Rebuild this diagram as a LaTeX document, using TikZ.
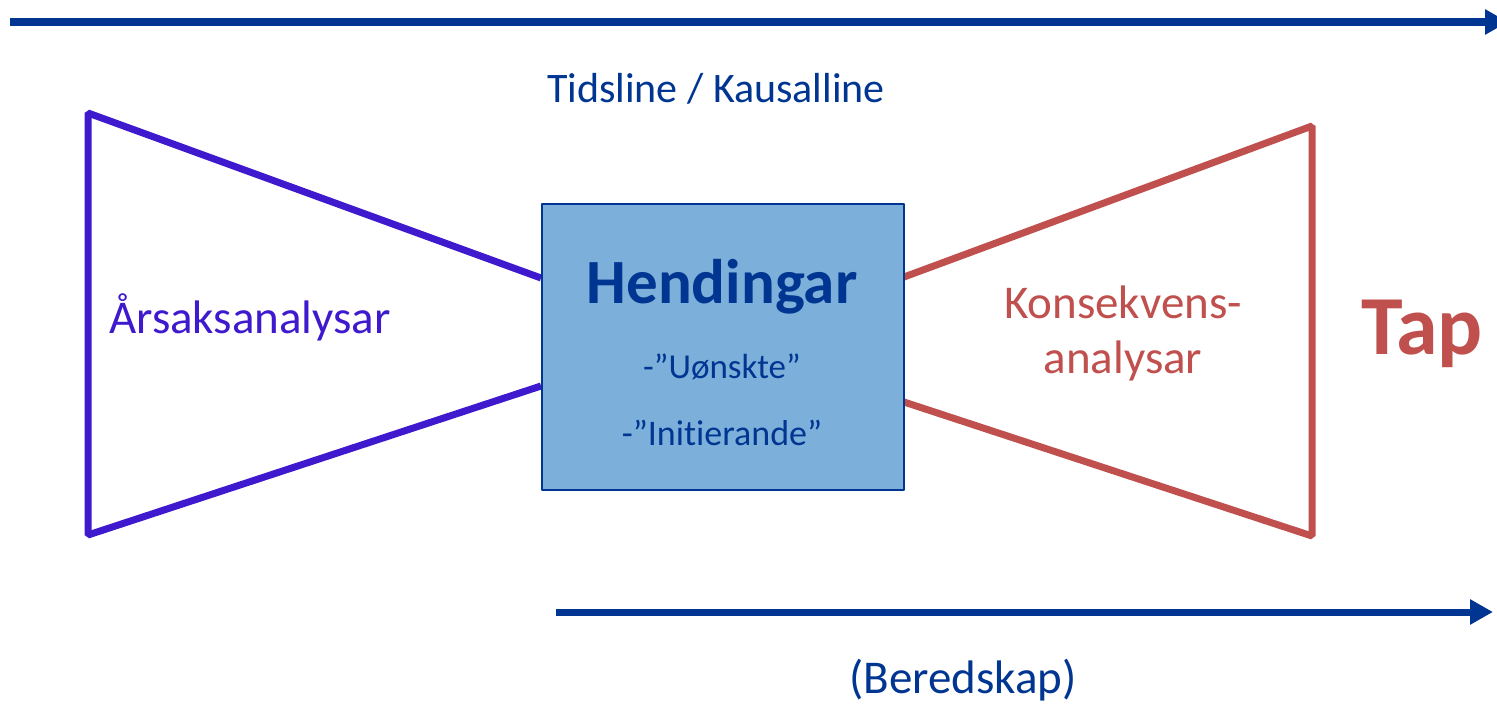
\documentclass[tikz,border=0pt]{standalone}
\usepackage{fontspec}
\setmainfont{Carlito}[Ligatures=NoCommon]
\usetikzlibrary{arrows.meta}
\usetikzlibrary{positioning}
\definecolor{tidsblue}{RGB}{0,53,145}
\definecolor{aarsakcol}{RGB}{63,25,205}
\definecolor{konsekcol}{RGB}{192,80,77}
\definecolor{hendfill}{RGB}{124,176,218}
\tikzstyle{tidsline} = [
	draw=tidsblue,
	-{Triangle[length=23pt,width=24pt]}
]
\tikzstyle{tekst} = [inner sep=0pt, anchor=base]
\tikzstyle{hending} = [
	draw=tidsblue,
	fill=hendfill,
	line width=2pt,
	inner sep=0pt,
	minimum width=362pt,
	minimum height=286pt
]
\tikzstyle{aarsak} = [draw=aarsakcol, line width=7pt]
\tikzstyle{konsek} = [draw=konsekcol, line width=7pt]
\tikzstyle{point} = [coordinate]

\begin{document}
\begin{tikzpicture}[x=1pt, y=-1pt, line join=bevel]
	\useasboundingbox (0,0) rectangle (1497,705);
	% tidsline oppe
	\node[point, name=tidstart] at (10,22) {};
	\node[point, name=tidslutt] at (1508,22) {};
	\draw[tidsline, line width=8pt] (tidstart) -- (tidslutt);
	\node[tekst, text=tidsblue, font=\fontsize{42}{50}\selectfont] (tidstekst) at (716,102) {Tidsline / Kausalline};

	% sloyfe venstre og hogre
	\node[point, name=aInn] at (541,278) {};
	\node[point, name=aTopp] at (88,113) {};
	\node[point, name=aBotn] at (88,535) {};
	\node[point, name=aUt] at (541,386) {};
	\node[point, name=kInn] at (904,277) {};
	\node[point, name=kTopp] at (1312,126) {};
	\node[point, name=kBotn] at (1312,536) {};
	\node[point, name=kUt] at (904,402) {};
	\draw[aarsak] (aInn) -- (aTopp) -- (aBotn) -- (aUt);
	\draw[konsek] (kInn) -- (kTopp) -- (kBotn) -- (kUt);

	\node[hending, name=hend] at (722.5,346.5) {};
	\node[tekst, text=tidsblue, font=\fontsize{63}{70}\selectfont\bfseries] (hendtekst) at (722,303) {Hendingar};
	\node[tekst, text=tidsblue, font=\fontsize{35}{42}\selectfont] (uonskte) at (722,378) {-”Uønskte”};
	\node[tekst, text=tidsblue, font=\fontsize{36}{42}\selectfont] (initierande) at (722,445) {-”Initierande”};

	\node[tekst, text=aarsakcol, font=\fontsize{47}{55}\selectfont] (aarsaktekst) at (250,333) {Årsaksanalysar};
	\node[tekst, text=konsekcol, font=\fontsize{47}{55}\selectfont] (konsek1) at (1123,318) {Konsekvens-};
	\node[tekst, text=konsekcol, font=\fontsize{47}{55}\selectfont] (konsek2) at (1123,373) {analysar};
	\node[tekst, text=konsekcol, font=\fontsize{84}{90}\selectfont\bfseries] (tap) at (1422,354) {Tap};

	% beredskap
	\node[point, name=berstart] at (556,612) {};
	\node[point, name=berslutt] at (1493,612) {};
	\draw[tidsline, line width=7pt] (berstart) -- (berslutt);
	\node[tekst, text=tidsblue, font=\fontsize{47}{55}\selectfont] (beredskap) at (963,693) {(Beredskap)};
\end{tikzpicture}
\end{document}
